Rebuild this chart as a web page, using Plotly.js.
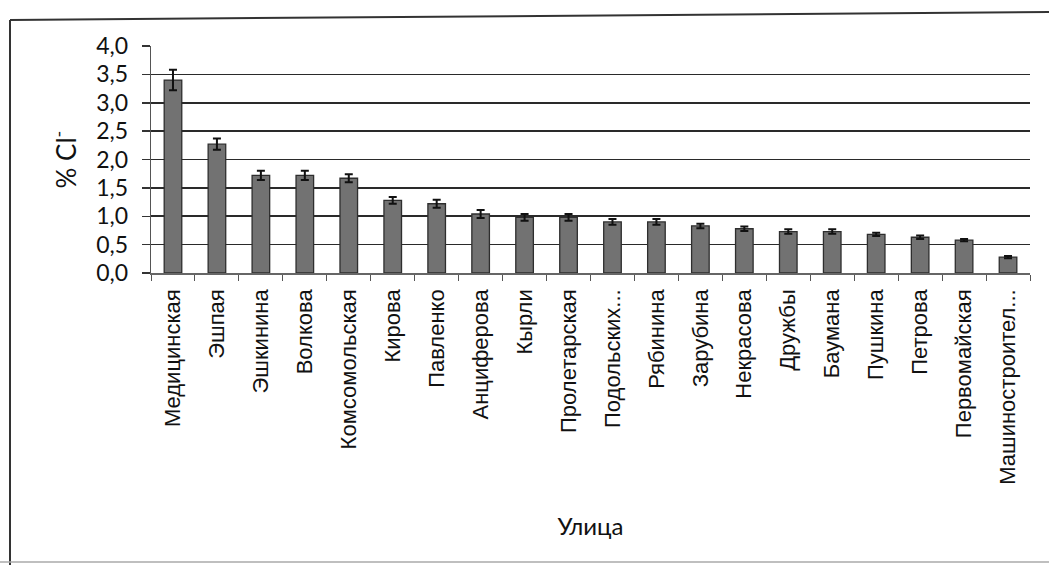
<!DOCTYPE html>
<html>
<head>
<meta charset="utf-8">
<script src="https://cdn.plot.ly/plotly-3.0.1.min.js"></script>
<style>
html,body{margin:0;padding:0;background:#fff;}
#chart{width:1049px;height:565px;}
</style>
</head>
<body>
<div id="chart"></div>
<script>
const streets = ["Медицинская","Эшпая","Эшкинина","Волкова","Комсомольская","Кирова","Павленко","Анциферова","Кырли","Пролетарская","Подольских...","Рябинина","Зарубина","Некрасова","Дружбы","Баумана","Пушкина","Петрова","Первомайская","Машиностроител..."];
const chloride = [3.40,2.27,1.72,1.72,1.67,1.28,1.22,1.04,0.98,0.98,0.90,0.90,0.83,0.78,0.73,0.73,0.68,0.63,0.58,0.28];
const errors = [0.18,0.10,0.08,0.08,0.07,0.06,0.07,0.07,0.06,0.06,0.05,0.05,0.04,0.04,0.04,0.04,0.03,0.03,0.02,0.02];
const yTicks = [0,0.5,1,1.5,2,2.5,3,3.5,4];

const L = 151, R = 1030, T = 46, B = 273;
function px(x){ return (x - L) / (R - L); }
function py(y){ return (B - y) / (B - T); }

const trace = {
  type: "bar",
  x: streets,
  y: chloride,
  marker: {color: "#727272", line: {color: "#2e2e2e", width: 1.3}},
  error_y: {type: "data", array: errors, visible: true, color: "#111", thickness: 2, width: 4},
  hoverinfo: "x+y"
};

const layout = {
  width: 1049, height: 565,
  margin: {l: L, r: 1049 - R, t: T, b: 565 - B},
  paper_bgcolor: "#ffffff", plot_bgcolor: "#ffffff",
  separators: ", ",
  bargap: 0.6,
  showlegend: false,
  font: {family: "Liberation Sans, Arial, sans-serif", color: "#111"},
  xaxis: {
    type: "category",
    tickangle: -90,
    tickfont: {size: 22, family: "Liberation Sans, Arial, sans-serif", color: "#111"},
    ticks: "outside", ticklen: 6, tickcolor: "#555", tickwidth: 1,
    tickson: "boundaries",
    ticklabelstandoff: 6,
    showline: true, linecolor: "#666", linewidth: 1.5,
    showgrid: false,
    title: {text: "Улица", font: {size: 24, family: "Lato, Open Sans, sans-serif", color: "#111"}, standoff: 34}
  },
  yaxis: {
    range: [0, 4],
    tickvals: yTicks,
    tickformat: ".1f",
    tickfont: {size: 23, family: "Lato, Open Sans, sans-serif", color: "#111"},
    ticks: "outside", ticklen: 8, tickcolor: "#333", tickwidth: 1.5,
    ticklabelstandoff: 9,
    showgrid: true, gridcolor: "#2a2a2a", gridwidth: 1.6,
    showline: true, linecolor: "#555", linewidth: 1.2,
    zeroline: false,
    title: {text: "% Cl<sup>-</sup>", font: {size: 26, family: "Lato, Open Sans, sans-serif", color: "#111"}, standoff: 12}
  },
  shapes: [
    {type: "line", xref: "paper", yref: "paper", x0: px(10), y0: py(20), x1: px(1049), y1: py(12), line: {color: "#333", width: 2}},
    {type: "line", xref: "paper", yref: "paper", x0: px(10), y0: py(20), x1: px(10), y1: py(565), line: {color: "#333", width: 2}},
    {type: "line", xref: "paper", yref: "paper", x0: px(0), y0: py(562), x1: px(1049), y1: py(562), line: {color: "#aaa", width: 1.5}}
  ]
};

Plotly.newPlot("chart", [trace], layout, {displayModeBar: false, staticPlot: true});
</script>
</body>
</html>
